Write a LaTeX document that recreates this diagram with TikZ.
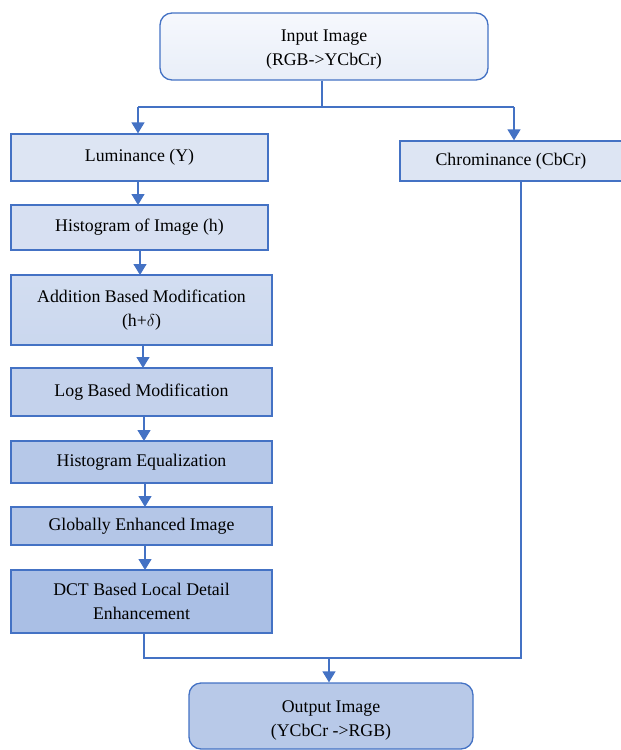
\documentclass[tikz,border=0pt]{standalone}
\usepackage{fontspec}
\setmainfont{Liberation Serif}
\usetikzlibrary{arrows.meta}
\definecolor{bord}{HTML}{4472C4}
\begin{document}
\begin{tikzpicture}[x=1pt,y=-1pt,
  font=\fontsize{17.8}{24}\selectfont,
  box/.style={draw=bord,line width=1.3pt,align=center,inner sep=0pt},
  rbox/.style={box,rounded corners=12pt},
  conn/.style={draw=bord,line width=1.3pt},
  arr/.style={conn,-{Triangle[length=11pt,width=13pt]}}]
\useasboundingbox (0,0) rectangle (621,750);
% boxes
\node[rbox,minimum width=328pt,minimum height=67pt,top color={rgb,255:red,246;green,248;blue,253},bottom color={rgb,255:red,232;green,238;blue,248}] (in) at (324,46.5) {};
\node[align=center,inner sep=0pt] (intxt) at (324,49.5) {Input Image\\(RGB->YCbCr)};
\node[box,minimum width=257pt,minimum height=47pt,fill={rgb,255:red,221;green,229;blue,243}] (lum) at (139.5,157.5) {Luminance (Y)};
\node[box,minimum width=222pt,minimum height=40pt,fill={rgb,255:red,221;green,229;blue,243}] (chr) at (511,161) {Chrominance (CbCr)};
\node[box,minimum width=257pt,minimum height=45pt,fill={rgb,255:red,215;green,224;blue,242}] (hist) at (139.5,227.5) {Histogram of Image (h)};
\node[box,minimum width=261pt,minimum height=70pt,top color={rgb,255:red,211;green,222;blue,241},bottom color={rgb,255:red,202;green,215;blue,238}] (add) at (141.5,310) {Addition Based Modification\\(h+$\delta$)};
\node[box,minimum width=261pt,minimum height=48pt,fill={rgb,255:red,196;green,210;blue,236}] (log) at (141.5,392) {Log Based Modification};
\node[box,minimum width=261pt,minimum height=42pt,fill={rgb,255:red,182;green,200;blue,232}] (heq) at (141.5,462) {Histogram Equalization};
\node[box,minimum width=261pt,minimum height=38pt,fill={rgb,255:red,180;green,198;blue,231}] (glob) at (141.5,526) {Globally Enhanced Image};
\node[box,minimum width=261pt,minimum height=63pt,fill={rgb,255:red,170;green,191;blue,229}] (dct) at (141.5,601.5) {DCT Based Local Detail\\Enhancement};
\node[rbox,minimum width=284pt,minimum height=66pt,fill={rgb,255:red,184;green,201;blue,232}] (out) at (331,716) {};
\node[align=center,inner sep=0pt] (outtxt) at (331,720) {Output Image\\(YCbCr ->RGB)};
% connectors
\coordinate (split) at (322,107);
\coordinate (sl) at (138,107);
\coordinate (sr) at (514,107);
\coordinate (join) at (329,658);
\draw[conn] (in.south -| split) -- (split);
\draw[conn] (sl) -- (sr);
\draw[arr] (sl) -- (sl |- lum.north);
\draw[arr] (sr) -- (sr |- chr.north);
\draw[arr] (138,181) -- (138,205);
\draw[arr] (140,250) -- (140,275);
\draw[arr] (143,345) -- (143,368);
\draw[arr] (144,416) -- (144,441);
\draw[arr] (145,483) -- (145,507);
\draw[arr] (145,545) -- (145,570);
\draw[conn] (144,633) -- (144,658) -- (521,658) -- (521,181);
\draw[arr] (join) -- (join |- out.north);
\end{tikzpicture}
\end{document}
